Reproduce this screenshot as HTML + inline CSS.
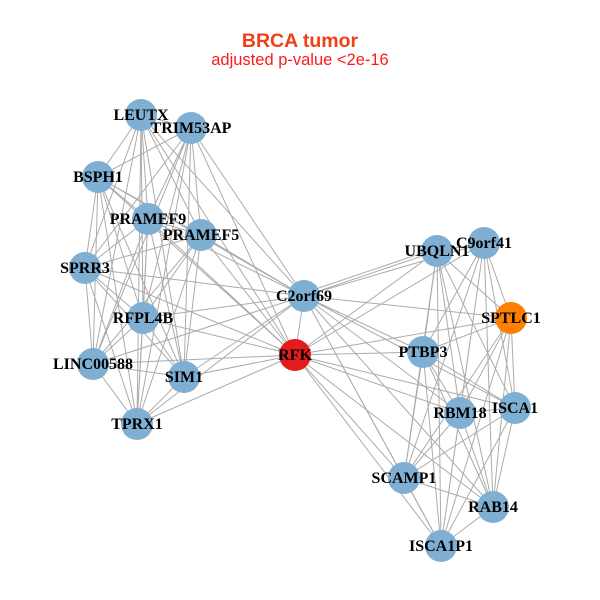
<!DOCTYPE html>
<html><head><meta charset="utf-8"><style>
html,body{margin:0;padding:0;background:#fff;}
svg{display:block;}
.t{font-family:"Liberation Serif",serif;font-weight:bold;font-size:16px;fill:#000;text-anchor:middle;}
</style></head><body>
<svg width="600" height="600" viewBox="0 0 600 600" xmlns="http://www.w3.org/2000/svg">
<rect width="600" height="600" fill="#fff"/>
<text x="300" y="47" text-anchor="middle" font-family="Liberation Sans, sans-serif" font-weight="bold" font-size="19.5" fill="#F0401A">BRCA tumor</text>
<text x="300" y="65" text-anchor="middle" font-family="Liberation Sans, sans-serif" font-size="16.5" fill="#FF1A1A">adjusted p-value &lt;2e-16</text>
<g stroke="#ababab" stroke-width="1" fill="none">
<path d="M141 115L191 128M141 115L98 177M141 115L148 219M141 115L201 235M141 115L85 268M141 115L143 318M141 115L93 364M141 115L184 377M141 115L137 424
M191 128L98 177M191 128L148 219M191 128L201 235M191 128L85 268M191 128L143 318M191 128L93 364M191 128L184 377M191 128L137 424
M98 177L148 219M98 177L201 235M98 177L85 268M98 177L143 318M98 177L93 364M98 177L184 377M98 177L137 424
M148 219L201 235M148 219L85 268M148 219L143 318M148 219L93 364M148 219L184 377M148 219L137 424
M201 235L85 268M201 235L143 318M201 235L93 364M201 235L184 377M201 235L137 424
M85 268L143 318M85 268L93 364M85 268L184 377M85 268L137 424
M143 318L93 364M143 318L184 377M143 318L137 424
M93 364L184 377M93 364L137 424
M184 377L137 424"/>
<path d="M437 251L484 243M437 251L511 318M437 251L423 352M437 251L515 408M437 251L460 413M437 251L404 478M437 251L493 507M437 251L441 546
M484 243L511 318M484 243L423 352M484 243L515 408M484 243L460 413M484 243L404 478M484 243L493 507M484 243L441 546
M511 318L423 352M511 318L515 408M511 318L460 413M511 318L404 478M511 318L493 507M511 318L441 546
M423 352L515 408M423 352L460 413M423 352L404 478M423 352L493 507M423 352L441 546
M515 408L460 413M515 408L404 478M515 408L493 507M515 408L441 546
M460 413L404 478M460 413L493 507M460 413L441 546
M404 478L493 507M404 478L441 546
M493 507L441 546"/>
<path d="M304 296L295 355
M304 296L141 115M304 296L191 128M304 296L98 177M304 296L148 219M304 296L201 235M304 296L85 268M304 296L143 318M304 296L93 364M304 296L184 377M304 296L137 424
M304 296L437 251M304 293L437 248M304 296L484 243M304 296L511 318M304 296L423 352M304 296L515 408M304 296L460 413M304 296L404 478M304 296L493 507M304 296L441 546
M295 355L141 115M295 355L191 128M295 355L98 177M295 355L148 219M295 355L201 235M295 355L85 268M295 355L143 318M295 355L93 364M295 355L184 377M295 355L137 424
M295 355L437 251M295 355L484 243M295 355L511 318M295 355L423 352M295 355L515 408M295 355L460 413M295 355L404 478M295 355L493 507M295 355L441 546"/>
</g>
<g fill="#7FAFD3">
<circle cx="141" cy="115" r="16"/>
<circle cx="191" cy="128" r="16"/>
<circle cx="98" cy="177" r="16"/>
<circle cx="148" cy="219" r="16"/>
<circle cx="201" cy="235" r="16"/>
<circle cx="85" cy="268" r="16"/>
<circle cx="143" cy="318" r="16"/>
<circle cx="93" cy="364" r="16"/>
<circle cx="184" cy="377" r="16"/>
<circle cx="137" cy="424" r="16"/>
<circle cx="304" cy="296" r="16"/>
<circle cx="437" cy="251" r="16"/>
<circle cx="484" cy="243" r="16"/>
<circle cx="423" cy="352" r="16"/>
<circle cx="515" cy="408" r="16"/>
<circle cx="460" cy="413" r="16"/>
<circle cx="404" cy="478" r="16"/>
<circle cx="493" cy="507" r="16"/>
<circle cx="441" cy="546" r="16"/>
</g>
<circle cx="295" cy="355" r="16" fill="#E41A1C"/>
<circle cx="511" cy="318" r="16" fill="#FF7F00"/>
<g class="t">
<text class="t" x="141" y="120">LEUTX</text>
<text class="t" x="191" y="133">TRIM53AP</text>
<text class="t" x="98" y="182">BSPH1</text>
<text class="t" x="148" y="224">PRAMEF9</text>
<text class="t" x="201" y="240">PRAMEF5</text>
<text class="t" x="85" y="273">SPRR3</text>
<text class="t" x="143" y="323">RFPL4B</text>
<text class="t" x="93" y="369">LINC00588</text>
<text class="t" x="184" y="382">SIM1</text>
<text class="t" x="137" y="429">TPRX1</text>
<text class="t" x="304" y="301">C2orf69</text>
<text class="t" x="295" y="360">RFK</text>
<text class="t" x="437" y="256">UBQLN1</text>
<text class="t" x="484" y="248">C9orf41</text>
<text class="t" x="511" y="323">SPTLC1</text>
<text class="t" x="423" y="357">PTBP3</text>
<text class="t" x="515" y="413">ISCA1</text>
<text class="t" x="460" y="418">RBM18</text>
<text class="t" x="404" y="483">SCAMP1</text>
<text class="t" x="493" y="512">RAB14</text>
<text class="t" x="441" y="551">ISCA1P1</text>
</g>
</svg>
</body></html>
